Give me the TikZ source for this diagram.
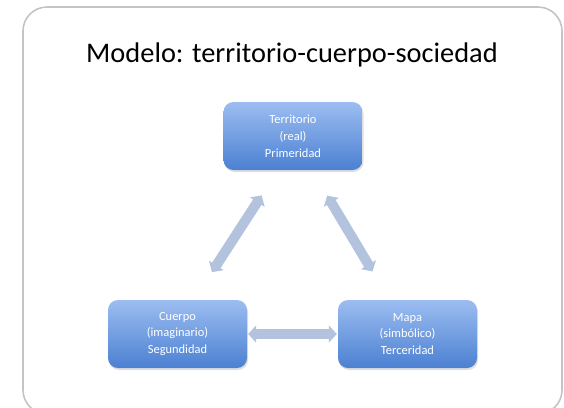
\documentclass[tikz,border=0pt]{standalone}
\usepackage{fontspec}
\setmainfont{Carlito}
\usetikzlibrary{arrows.meta,shadows}
\definecolor{boxtop}{HTML}{9CBDF1}
\definecolor{boxbot}{HTML}{4C80D2}
\definecolor{arrcol}{HTML}{B3C2DD}
\definecolor{framecol}{HTML}{C4C4C4}
\begin{document}
\begin{tikzpicture}[x=1bp,y=-1bp,
  box/.style={rounded corners=10bp, top color=boxtop, bottom color=boxbot, draw=none,
    minimum width=139bp, minimum height=68bp, text=white, align=center,
    font=\fontsize{12.5}{17}\selectfont,
    drop shadow={opacity=0.25, shadow xshift=1bp, shadow yshift=-2bp}},
  fat/.style={line width=10bp, draw=arrcol,
    {Triangle[width=17bp,length=8bp]}-{Triangle[width=17bp,length=8bp]}}]
\useasboundingbox (0,0) rectangle (564,407);
\clip (0,0) rectangle (564,407);
\draw[framecol, line width=1.6bp, rounded corners=24bp] (23,7) rectangle (562,414);
\node (title) at (292,55) {\fontsize{28.5}{32}\selectfont Modelo: territorio-cuerpo-sociedad};
\node[box] (T) at (293,136) {Territorio\\(real)\\Primeridad};
\node[box] (C) at (177.5,334) {Cuerpo\\(imaginario)\\Segundidad};
\node[box] (M) at (407.5,334) {Mapa\\(simbólico)\\Terceridad};
\draw[fat, shorten <=30bp, shorten >=33bp] ([xshift=-15bp]T.south) -- ([xshift=16.5bp]C.north);
\draw[fat, shorten <=29.6bp, shorten >=33bp] ([xshift=19bp]T.south) -- ([xshift=-18bp]M.north);
\draw[fat, shorten <=1bp, shorten >=1bp] (C.east) -- (M.west);
\end{tikzpicture}
\end{document}
